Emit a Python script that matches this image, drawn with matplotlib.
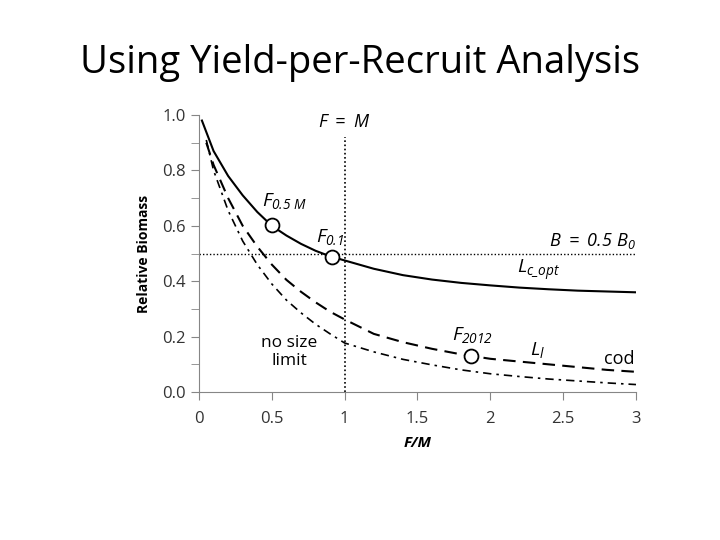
import numpy as np
import matplotlib.pyplot as plt
from matplotlib.ticker import MultipleLocator, FormatStrFormatter

plt.rcParams['font.family'] = ['Open Sans', 'DejaVu Sans']
# all mathtext labels in the chart are italic
plt.rcParams['mathtext.fontset'] = 'custom'
plt.rcParams['mathtext.rm'] = 'Open Sans:italic'
plt.rcParams['mathtext.it'] = 'Open Sans:italic'
plt.rcParams['mathtext.bf'] = 'Open Sans:bold:italic'

# relative biomass vs F/M
f_opt = [0.02, 0.1, 0.2, 0.3, 0.4, 0.5, 0.6, 0.7, 0.8, 0.9, 1.0, 1.2, 1.4, 1.6, 1.8, 2.0, 2.2, 2.4, 2.6, 2.8, 3.0]
b_opt = [0.98, 0.87, 0.78, 0.71, 0.65, 0.60, 0.565, 0.535, 0.51, 0.49, 0.475, 0.445, 0.422, 0.406, 0.394, 0.385, 0.377, 0.371, 0.366, 0.363, 0.36]

f_lt = [0.05, 0.1, 0.2, 0.3, 0.4, 0.5, 0.6, 0.7, 0.8, 0.9, 1.0, 1.2, 1.4, 1.6, 1.8, 2.0, 2.2, 2.4, 2.6, 2.8, 3.0]
b_lt = [0.90, 0.82, 0.70, 0.60, 0.525, 0.46, 0.405, 0.362, 0.324, 0.29, 0.262, 0.21, 0.18, 0.156, 0.136, 0.12, 0.11, 0.10, 0.09, 0.08, 0.073]

f_none = [0.05, 0.1, 0.2, 0.3, 0.4, 0.5, 0.6, 0.7, 0.8, 0.9, 1.0, 1.2, 1.4, 1.6, 1.8, 2.0, 2.2, 2.4, 2.6, 2.8, 3.0]
b_none = [0.91, 0.80, 0.655, 0.545, 0.46, 0.39, 0.332, 0.286, 0.245, 0.21, 0.177, 0.145, 0.118, 0.098, 0.08, 0.066, 0.056, 0.047, 0.04, 0.033, 0.027]

# reference points (circles)
pt_f = [0.5, 0.91, 1.87]
pt_b = [0.603, 0.487, 0.13]

fig = plt.figure(figsize=(7.2, 5.4), dpi=100)
fig.text(0.5, 0.884, 'Using Yield-per-Recruit Analysis', ha='center', va='center', fontsize=27.5)
ax = fig.add_axes([0.2764, 0.274, 0.6069, 0.513])

ax.axhline(0.5, color='black', lw=1, ls=(0, (1, 1.5)))
ax.plot([1, 1], [0, 0.92], color='black', lw=1.2, ls=(0, (1, 1.5)))

ax.plot(f_opt, b_opt, color='black', lw=1.5)
ax.plot(f_lt, b_lt, color='black', lw=1.5, ls=(0, (6, 3.5)))
ax.plot(f_none, b_none, color='black', lw=1.2, ls=(0, (5, 3, 1.5, 3)))
ax.plot(pt_f, pt_b, 'o', ms=10, mfc='white', mec='black', mew=1.3, ls='none')

ax.text(1.0, 0.975, '$F\\ =\\ M$', ha='center', va='center', fontsize=13)
ax.text(0.43, 0.69, '$F_{0.5\\ M}$', ha='left', va='center', fontsize=14)
ax.text(0.8, 0.56, '$F_{0.1}$', ha='left', va='center', fontsize=14)
ax.text(3.0, 0.545, '$B\\ =\\ 0.5\\ B_{0}$', ha='right', va='center', fontsize=13)
ax.text(2.18, 0.44, '$L_{c\\_opt}$', ha='left', va='center', fontsize=14)
ax.text(1.74, 0.205, '$F_{2012}$', ha='left', va='center', fontsize=14)
ax.text(2.27, 0.15, '$L_{l}$', ha='left', va='center', fontsize=14)
ax.text(2.99, 0.12, 'cod', ha='right', va='center', fontsize=13)
ax.text(0.62, 0.145, 'no size\nlimit', ha='center', va='center', fontsize=12.5, linespacing=1.2)

ax.set_xlim(0, 3)
ax.set_ylim(0, 1.0)
ax.xaxis.set_major_locator(MultipleLocator(0.5))
ax.xaxis.set_major_formatter(FormatStrFormatter('%g'))
ax.yaxis.set_major_locator(MultipleLocator(0.2))
ax.yaxis.set_minor_locator(MultipleLocator(0.1))
ax.yaxis.set_major_formatter(FormatStrFormatter('%.1f'))
for s in ['top', 'right']:
    ax.spines[s].set_visible(False)
for s in ['left', 'bottom']:
    ax.spines[s].set_color('#868686')
ax.tick_params(which='both', direction='out', length=6, color='#868686', labelsize=12, labelcolor='#333333')
ax.tick_params(axis='x', pad=8)
ax.set_xlabel('F/M', fontsize=11, fontweight='bold', style='italic', labelpad=6)
ax.set_ylabel('Relative Biomass', fontsize=10, fontweight='bold', labelpad=8)

fig.savefig('out.png', dpi=100)
